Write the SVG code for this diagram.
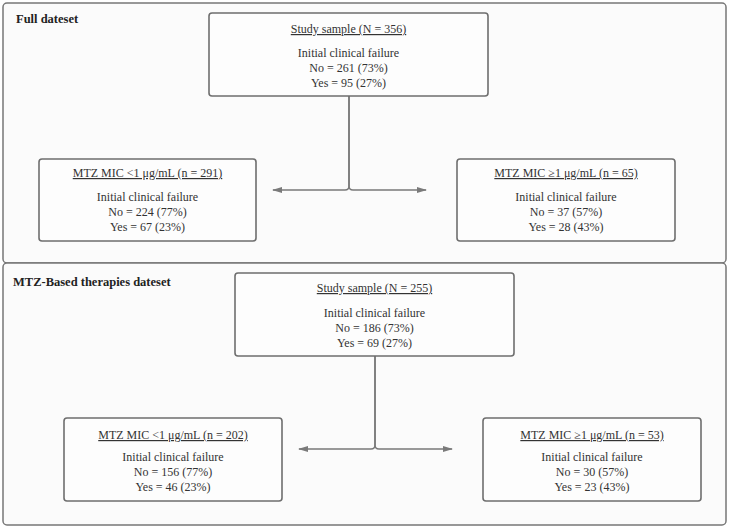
<svg xmlns="http://www.w3.org/2000/svg" width="730" height="529" viewBox="0 0 730 529">
<style>
.panel{fill:#fbfbfb;stroke:#777;stroke-width:1.5}
.box{fill:#fdfdfd;stroke:#6e6e6e;stroke-width:1.6}
.t{font-family:"Liberation Serif",serif;font-size:12px;fill:#333;text-anchor:middle}
.u{text-decoration:underline}
.h{font-family:"Liberation Serif",serif;font-size:12.5px;font-weight:bold;fill:#222}
.c{fill:none;stroke:#7a7a7a;stroke-width:1.5}
</style>
<defs>
<marker id="ah" markerWidth="10" markerHeight="8" refX="9" refY="4" orient="auto" markerUnits="userSpaceOnUse">
<path d="M0,1 L10,4 L0,7 Z" fill="#7a7a7a"/>
</marker>
</defs>
<rect width="730" height="529" fill="#ffffff"/>
<g id="panel1">
<rect class="panel" x="3" y="3" width="723" height="260" rx="4"/>
<text class="h" x="16" y="23">Full dateset</text>
</g>
<g id="panel2">
<rect class="panel" x="3" y="263" width="723" height="262" rx="4"/>
<text class="h" x="13" y="286">MTZ-Based therapies dateset</text>
</g>
<g id="connectors">
<path class="c" d="M349,96 V186 Q349,190 345,190 H273" marker-end="url(#ah)"/>
<path class="c" d="M349,96 V186 Q349,190 353,190 H426" marker-end="url(#ah)"/>
<path class="c" d="M375,356 V445 Q375,449 371,449 H299" marker-end="url(#ah)"/>
<path class="c" d="M375,356 V445 Q375,449 379,449 H452" marker-end="url(#ah)"/>
</g>
<g id="n1">
<rect class="box" x="209" y="13" width="279" height="83" rx="3"/>
<text class="t u" x="348.5" y="33">Study sample (N = 356)</text>
<text class="t" x="348.5" y="57">Initial clinical failure</text>
<text class="t" x="348.5" y="72">No = 261 (73%)</text>
<text class="t" x="348.5" y="87">Yes = 95 (27%)</text>
</g>
<g id="n2">
<rect class="box" x="39" y="159" width="217" height="82" rx="3"/>
<text class="t u" x="147.5" y="177">MTZ MIC &lt;1 μg/mL (n = 291)</text>
<text class="t" x="147.5" y="201">Initial clinical failure</text>
<text class="t" x="147.5" y="216">No = 224 (77%)</text>
<text class="t" x="147.5" y="231">Yes = 67 (23%)</text>
</g>
<g id="n3">
<rect class="box" x="457" y="159" width="218" height="82" rx="3"/>
<text class="t u" x="566" y="177">MTZ MIC ≥1 μg/mL (n = 65)</text>
<text class="t" x="566" y="201">Initial clinical failure</text>
<text class="t" x="566" y="216">No = 37 (57%)</text>
<text class="t" x="566" y="231">Yes = 28 (43%)</text>
</g>
<g id="n4">
<rect class="box" x="235" y="273" width="279" height="83" rx="3"/>
<text class="t u" x="374.5" y="292">Study sample (N = 255)</text>
<text class="t" x="374.5" y="317">Initial clinical failure</text>
<text class="t" x="374.5" y="332">No = 186 (73%)</text>
<text class="t" x="374.5" y="347">Yes = 69 (27%)</text>
</g>
<g id="n5">
<rect class="box" x="64" y="418" width="218" height="83" rx="3"/>
<text class="t u" x="173" y="439">MTZ MIC &lt;1 μg/mL (n = 202)</text>
<text class="t" x="173" y="461">Initial clinical failure</text>
<text class="t" x="173" y="476">No = 156 (77%)</text>
<text class="t" x="173" y="491">Yes = 46 (23%)</text>
</g>
<g id="n6">
<rect class="box" x="483" y="418" width="218" height="83" rx="3"/>
<text class="t u" x="592" y="439">MTZ MIC ≥1 μg/mL (n = 53)</text>
<text class="t" x="592" y="461">Initial clinical failure</text>
<text class="t" x="592" y="476">No = 30 (57%)</text>
<text class="t" x="592" y="491">Yes = 23 (43%)</text>
</g>
</svg>
